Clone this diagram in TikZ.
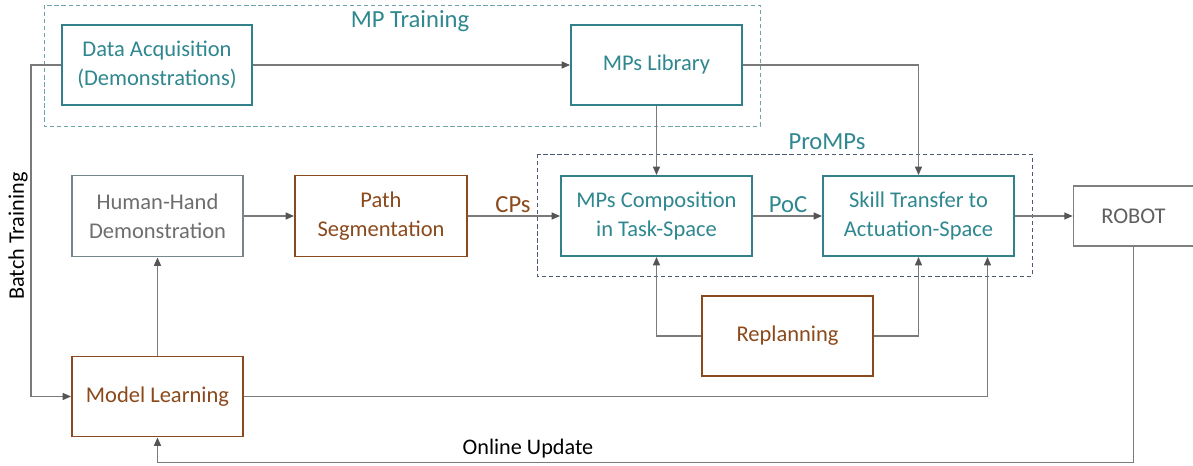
\documentclass[tikz,border=0pt]{standalone}
\usepackage{fontspec}
\setmainfont{Carlito}
\usetikzlibrary{arrows.meta,calc}
\definecolor{tealB}{HTML}{31808C}
\definecolor{tealT}{HTML}{2F878F}
\definecolor{tealD}{HTML}{6FA3AB}
\definecolor{slateD}{HTML}{4A5A70}
\definecolor{brownB}{HTML}{8A4A1E}
\definecolor{brownT}{HTML}{8B4A1C}
\definecolor{grayB}{HTML}{75868C}
\definecolor{grayT}{HTML}{6E6E6E}
\definecolor{robB}{HTML}{7F7F7F}
\definecolor{robT}{HTML}{606060}
\definecolor{lineG}{HTML}{7A7A7A}
\definecolor{tipG}{HTML}{555555}
\begin{document}
\begin{tikzpicture}[x=0.025cm,y=-0.025cm,
  box/.style={draw,line width=1.3pt,align=center,inner sep=0pt,fill=white,
    font=\fontsize{16}{20.5}\selectfont},
  tealbox/.style={box,draw=tealB,text=tealT},
  brownbox/.style={box,draw=brownB,text=brownT},
  graybox/.style={box,draw=grayB,text=grayT},
  robbox/.style={box,draw=robB,text=robT,line width=1.1pt},
  conn/.style={draw=lineG,line width=0.9pt},
  arr/.style={conn,-{Triangle[length=6pt,width=5pt,color=tipG]}},
  lbl/.style={inner sep=0pt,font=\fontsize{17.5}{20}\selectfont},
  txt/.style={inner sep=0pt,font=\fontsize{15.8}{19}\selectfont,text=black},
  dbox/.style={dashed,dash pattern=on 3pt off 2pt,line width=0.7pt}]
\useasboundingbox (0,0) rectangle (1193,466);
\clip (0,0) rectangle (1193,466);

% dashed groups
\draw[dbox,draw=tealD] (44,5) rectangle (760,126);
\draw[dbox,draw=slateD] (537,154) rectangle (1032,276);

% boxes
\node[tealbox,minimum width=4.75cm,minimum height=2cm] (da) at (157,65) {Data Acquisition\\(Demonstrations)};
\node[tealbox,minimum width=4.275cm,minimum height=2cm] (lib) at (656.5,65) {MPs Library};
\node[graybox,minimum width=4.275cm,minimum height=2.025cm] (hh) at (157.5,216) {Human-Hand\\Demonstration};
\node[brownbox,minimum width=4.3cm,minimum height=2.025cm] (ps) at (381,216) {Path\\Segmentation};
\node[tealbox,minimum width=4.775cm,minimum height=2cm] (mc) at (656.5,216) {MPs Composition\\in Task-Space};
\node[tealbox,minimum width=4.775cm,minimum height=2cm] (st) at (918.5,216) {Skill Transfer to\\Actuation-Space};
\node[robbox,minimum width=3cm,minimum height=1.5cm] (robot) at (1133.5,216) {ROBOT};
\node[brownbox,minimum width=4.275cm,minimum height=2cm] (ml) at (157.5,396.5) {Model Learning};
\node[brownbox,minimum width=4.275cm,minimum height=2cm] (rp) at (787.5,336) {Replanning};

% labels
\node[lbl,text=tealT] (mptl) at (410,21) {MP Training};
\node[lbl,text=tealT] (prol) at (827,142) {ProMPs};
\node[lbl,text=brownT] (cpsl) at (513,205) {CPs};
\node[lbl,text=tealT] (pocl) at (788,205) {PoC};
\node[txt,rotate=90] (btl) at (18,236) {Batch Training};
\node[txt] (oul) at (528,449) {Online Update};

% connectors
\coordinate (bt) at (31,65);
\draw[arr] (da) -- (lib);
\draw[arr] (da.west) -- (bt) |- (ml.west);
\draw[arr] (lib) -- (mc);
\draw[arr] (lib.east) -| (st.north);
\draw[arr] (hh) -- (ps);
\draw[arr] (ps) -- (mc);
\draw[arr] (mc) -- (st);
\draw[arr] (st) -- (robot);
\draw[arr] (ml) -- (hh);
\draw[arr] (rp.west) -| (mc.south);
\draw[arr] (rp.east) -| (st.south);
\draw[arr] (ml.east) -| ($(st.south)+(69,0)$);
\draw[arr] (robot.south) -- ++(0,215.7) -| (ml.south);
\end{tikzpicture}
\end{document}
